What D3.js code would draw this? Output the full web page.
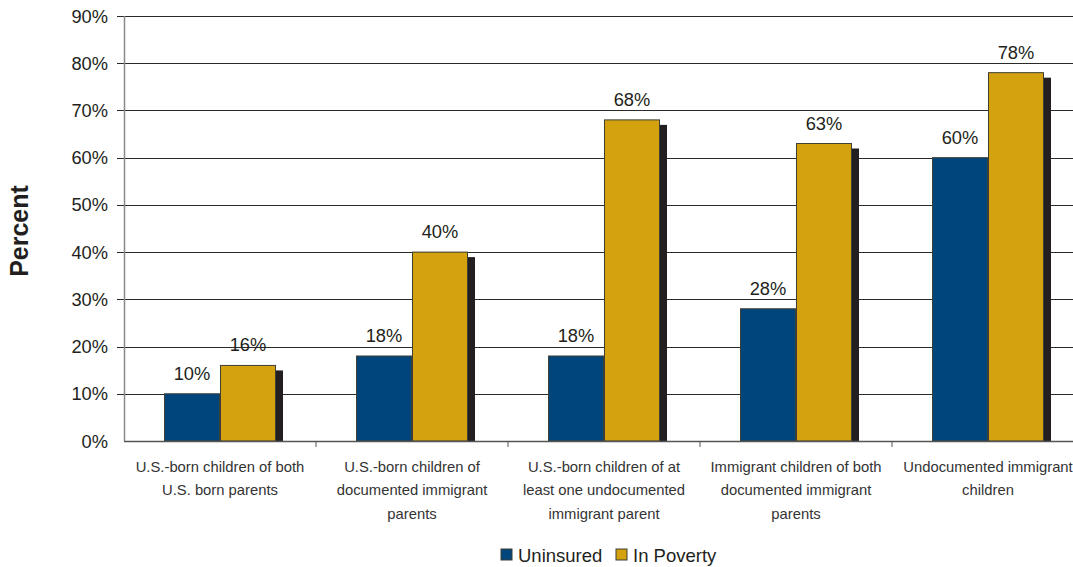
<!DOCTYPE html>
<html>
<head>
<meta charset="utf-8">
<script src="https://cdn.jsdelivr.net/npm/d3@7"></script>
<style>
  html, body { margin: 0; padding: 0; background: #fff; }
  svg { display: block; font-family: "Liberation Sans", Arial, sans-serif; }
</style>
</head>
<body>
<svg id="chart" width="1073" height="567"></svg>
<script>
const categories = [
  "U.S.-born children of both\nU.S. born parents",
  "U.S.-born children of\ndocumented immigrant\nparents",
  "U.S.-born children of at\nleast one undocumented\nimmigrant parent",
  "Immigrant children of both\ndocumented immigrant\nparents",
  "Undocumented immigrant\nchildren"
];
const series = ["Uninsured", "In Poverty"];
const uninsured = [10, 18, 18, 28, 60];
const inPoverty = [16, 40, 68, 63, 78];
const yTicks = [0, 10, 20, 30, 40, 50, 60, 70, 80, 90];
const colors = ["#00457c", "#d4a20f"];

(function () {
const svg = d3.select("#chart");
const pLeft = 124, pRight = 1084, pTop = 16, pBottom = 441;

const x0 = d3.scaleBand().domain(categories).range([pLeft, pRight]);
const groupW = 112;
const x1 = d3.scaleBand().domain(series).range([0, groupW]);
const y = d3.scaleLinear().domain([0, 90]).range([pBottom, pTop]);

// gridlines
svg.append("g").selectAll("line").data(yTicks.filter(d => d > 0)).join("line")
  .attr("x1", pLeft - 7).attr("x2", 1073)
  .attr("y1", d => Math.round(y(d)) + 0.5).attr("y2", d => Math.round(y(d)) + 0.5)
  .attr("stroke", "#2a2a2a").attr("stroke-width", 1);

// y tick labels
svg.append("g").selectAll("text").data(yTicks).join("text")
  .attr("x", 108).attr("y", d => y(d) + 6.5)
  .attr("text-anchor", "end")
  .attr("font-size", 18.3).attr("fill", "#231f20")
  .text(d => d + "%");

// y axis line
svg.append("line")
  .attr("x1", pLeft + 0.5).attr("x2", pLeft + 0.5)
  .attr("y1", pTop).attr("y2", pBottom)
  .attr("stroke", "#8a8a8a").attr("stroke-width", 1.5);

// y axis title
svg.append("text")
  .attr("transform", "translate(28,231) rotate(-90)")
  .attr("text-anchor", "middle")
  .attr("font-size", 25).attr("font-weight", "bold").attr("fill", "#231f20")
  .text("Percent");

const data = categories.map((c, i) => ({ cat: c, vals: [uninsured[i], inPoverty[i]] }));
const off = (x0.bandwidth() - groupW) / 2;

const groups = svg.append("g").selectAll("g").data(data).join("g")
  .attr("transform", d => `translate(${x0(d.cat) + off},0)`);

// shadow behind poverty bar
groups.append("rect")
  .attr("x", x1("In Poverty") + x1.bandwidth())
  .attr("width", 7)
  .attr("y", d => y(d.vals[1]) + 5)
  .attr("height", d => pBottom - y(d.vals[1]) - 5)
  .attr("fill", "#231f20");

groups.selectAll("rect.bar").data(d => d.vals.map((v, j) => ({ s: series[j], v, j }))).join("rect")
  .attr("class", "bar")
  .attr("x", d => x1(d.s) + 0.5)
  .attr("width", x1.bandwidth() - 1)
  .attr("y", d => y(d.v))
  .attr("height", d => pBottom - y(d.v))
  .attr("fill", d => colors[d.j])
  .attr("stroke", "#3f3f35").attr("stroke-width", 1);

groups.selectAll("text.val").data(d => d.vals.map((v, j) => ({ s: series[j], v, j }))).join("text")
  .attr("class", "val")
  .attr("x", d => x1(d.s) + x1.bandwidth() / 2)
  .attr("y", d => y(d.v) - 14)
  .attr("text-anchor", "middle")
  .attr("font-size", 18.3).attr("fill", "#231f20")
  .text(d => d.v + "%");

// x axis line
svg.append("line")
  .attr("x1", pLeft).attr("x2", 1073)
  .attr("y1", pBottom + 0.5).attr("y2", pBottom + 0.5)
  .attr("stroke", "#555").attr("stroke-width", 1.5);

// x tick marks at band boundaries
svg.append("g").selectAll("line").data(categories.slice(1)).join("line")
  .attr("x1", d => x0(d)).attr("x2", d => x0(d))
  .attr("y1", pBottom).attr("y2", pBottom + 6)
  .attr("stroke", "#555").attr("stroke-width", 1);

// category labels
const labels = svg.append("g").selectAll("text").data(categories).join("text")
  .attr("text-anchor", "middle")
  .attr("font-size", 14.8).attr("fill", "#333");
labels.each(function(d) {
  const t = d3.select(this);
  d.split("\n").forEach((line, k) => {
    t.append("tspan")
      .attr("x", x0(d) + x0.bandwidth() / 2)
      .attr("y", 472 + k * 23.3)
      .text(line);
  });
});

// legend
const legend = svg.append("g");
const legX = [501, 616];
series.forEach((s, i) => {
  legend.append("rect")
    .attr("x", legX[i]).attr("y", 549).attr("width", 11).attr("height", 11)
    .attr("fill", colors[i]).attr("stroke", "#3f3f35").attr("stroke-width", 1);
  legend.append("text")
    .attr("x", legX[i] + 17).attr("y", 561.5)
    .attr("font-size", 18.5).attr("fill", "#231f20")
    .text(s);
});
})();
</script>
</body>
</html>
